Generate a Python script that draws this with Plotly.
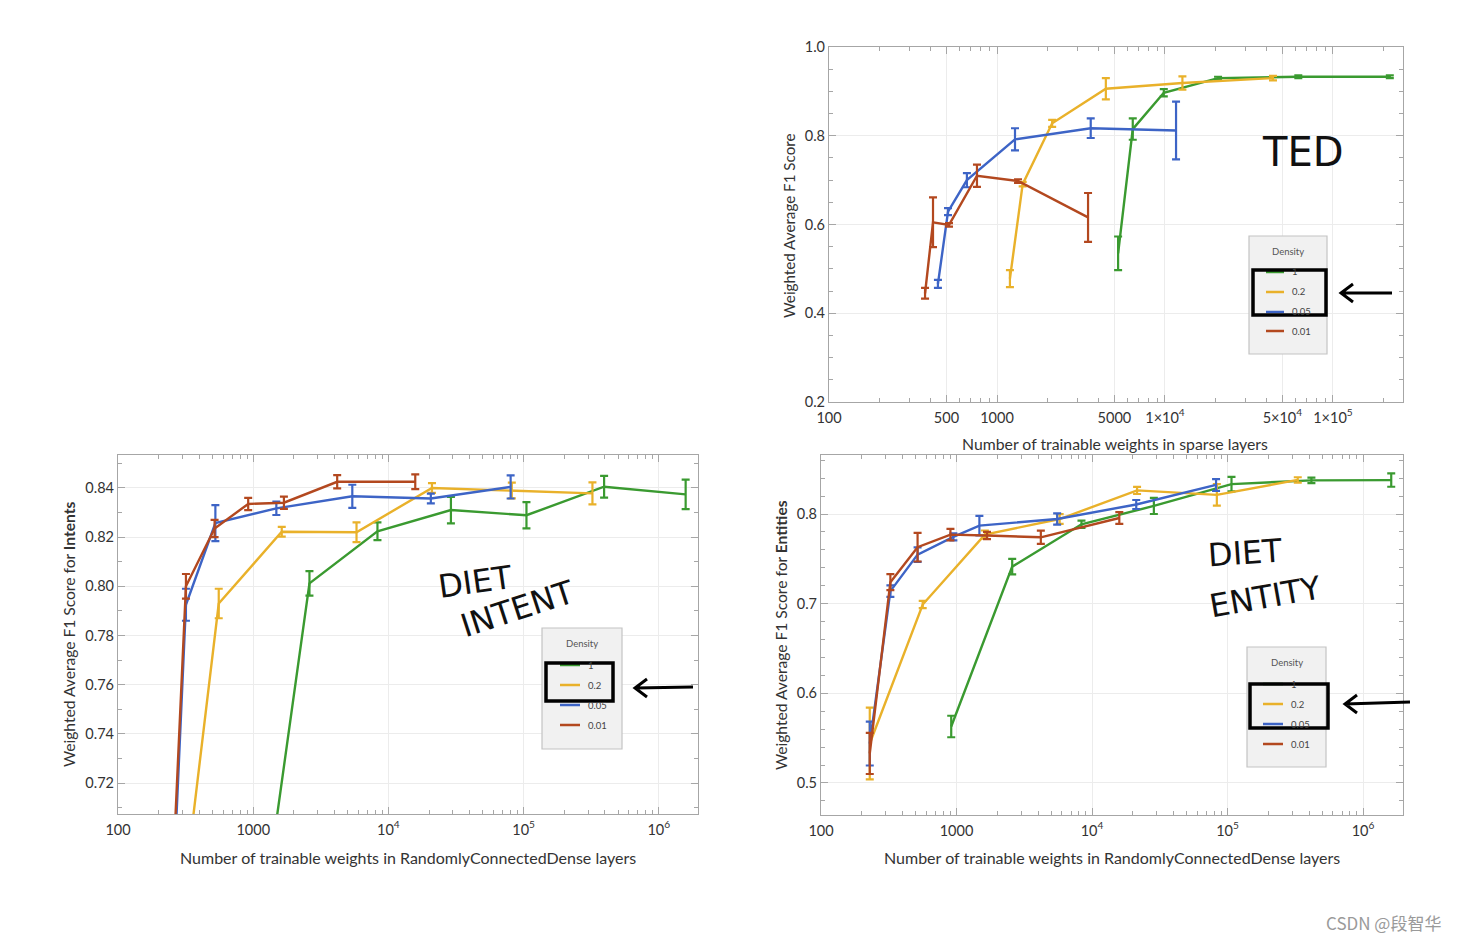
import plotly.graph_objects as go

W, H = 1464, 942

# ---------------- data ----------------
DENSITIES = ["1", "0.2", "0.05", "0.01"]
COLORS = ["#3a9a30", "#e9b12a", "#3d64c6", "#b3481f"]

# TED (sparse layers)
TED_X_1 = [5260, 6430, 9840, 20700, 62200, 218000]
TED_Y_1 = [0.535, 0.815, 0.897, 0.930, 0.933, 0.933]
TED_E_1 = [0.038, 0.024, 0.008, 0.003, 0.003, 0.003]
TED_X_02 = [1194, 1422, 2130, 4446, 12700, 43950]
TED_Y_02 = [0.478, 0.691, 0.828, 0.906, 0.919, 0.930]
TED_E_02 = [0.019, 0.005, 0.008, 0.024, 0.015, 0.005]
TED_X_005 = [445, 511, 662, 1280, 3614, 11640]
TED_Y_005 = [0.466, 0.629, 0.700, 0.792, 0.817, 0.812]
TED_E_005 = [0.009, 0.008, 0.016, 0.025, 0.022, 0.065]
TED_X_001 = [373, 416, 518, 760, 1334, 3484]
TED_Y_001 = [0.445, 0.605, 0.599, 0.710, 0.698, 0.616]
TED_E_001 = [0.012, 0.056, 0.004, 0.025, 0.004, 0.055]

# DIET intents
INT_X_1 = [900, 2606, 8300, 29000, 105000, 394000, 1580000]
INT_Y_1 = [0.619, 0.8012, 0.8224, 0.831, 0.8289, 0.8405, 0.8374]
INT_E_1 = [0.005, 0.005, 0.0036, 0.0054, 0.0053, 0.0044, 0.006]
INT_X_02 = [230, 556, 1626, 5810, 21000, 81800, 323000]
INT_Y_02 = [0.617, 0.793, 0.8222, 0.822, 0.840, 0.839, 0.8378]
INT_E_02 = [0.005, 0.006, 0.002, 0.004, 0.002, 0.0032, 0.0045]
INT_X_005 = [230, 318, 525, 1483, 5408, 20600, 80200]
INT_Y_005 = [0.620, 0.7925, 0.8257, 0.8317, 0.8366, 0.8357, 0.8404]
INT_E_005 = [0.005, 0.0065, 0.0073, 0.0027, 0.0047, 0.002, 0.0047]
INT_X_001 = [230, 318, 518, 918, 1687, 4180, 15800]
INT_Y_001 = [0.630, 0.800, 0.8235, 0.8335, 0.834, 0.8425, 0.8425]
INT_E_001 = [0.005, 0.005, 0.0035, 0.0025, 0.0025, 0.0027, 0.003]

# DIET entities
ENT_X_1 = [914, 2576, 8360, 28600, 107000, 416000, 1615000]
ENT_Y_1 = [0.563, 0.7413, 0.7885, 0.809, 0.8333, 0.8375, 0.8378]
ENT_E_1 = [0.012, 0.0087, 0.004, 0.009, 0.008, 0.003, 0.0074]
ENT_X_02 = [229, 563, 1619, 5770, 21500, 83400, 330000]
ENT_Y_02 = [0.544, 0.699, 0.777, 0.7944, 0.8263, 0.8213, 0.838]
ENT_E_02 = [0.040, 0.004, 0.0046, 0.0055, 0.004, 0.012, 0.003]
ENT_X_005 = [229, 325, 516, 948, 1475, 5530, 21200, 82300]
ENT_Y_005 = [0.544, 0.714, 0.7547, 0.7745, 0.787, 0.7944, 0.8106, 0.8324]
ENT_E_005 = [0.0245, 0.0065, 0.008, 0.004, 0.011, 0.0063, 0.005, 0.0065]
ENT_X_001 = [229, 325, 516, 902, 1679, 4190, 15900]
ENT_Y_001 = [0.533, 0.724, 0.763, 0.777, 0.776, 0.774, 0.7955]
ENT_E_001 = [0.023, 0.009, 0.016, 0.0065, 0.004, 0.0074, 0.0065]

TED_XTICKS = [100, 500, 1000, 5000, 10000, 50000, 100000]
TED_XTEXT = ["100", "500", "1000", "5000", "1\u00d710<sup>4</sup>", "5\u00d710<sup>4</sup>", "1\u00d710<sup>5</sup>"]
DIET_XTICKS = [100, 1000, 10000, 100000, 1000000]
DIET_XTEXT = ["100", "1000", "10<sup>4</sup>", "10<sup>5</sup>", "10<sup>6</sup>"]
TED_YTICKS = [0.2, 0.4, 0.6, 0.8, 1.0]
INT_YTICKS = [0.72, 0.74, 0.76, 0.78, 0.80, 0.82, 0.84]
ENT_YTICKS = [0.5, 0.6, 0.7, 0.8]

# ---------------- helpers ----------------
def px(x):
    return x / W

def py(y):
    return 1 - y / H

FONT = "Lato"
FRAME = "#a6a6a6"
GRID = "#ececec"

fig = go.Figure()

panels = [
    ("x", "y", [(TED_X_1, TED_Y_1, TED_E_1), (TED_X_02, TED_Y_02, TED_E_02),
                (TED_X_005, TED_Y_005, TED_E_005), (TED_X_001, TED_Y_001, TED_E_001)]),
    ("x2", "y2", [(INT_X_1, INT_Y_1, INT_E_1), (INT_X_02, INT_Y_02, INT_E_02),
                  (INT_X_005, INT_Y_005, INT_E_005), (INT_X_001, INT_Y_001, INT_E_001)]),
    ("x3", "y3", [(ENT_X_1, ENT_Y_1, ENT_E_1), (ENT_X_02, ENT_Y_02, ENT_E_02),
                  (ENT_X_005, ENT_Y_005, ENT_E_005), (ENT_X_001, ENT_Y_001, ENT_E_001)]),
]
for xa, ya, series in panels:
    for (xs, ys, es), col, name in zip(series, COLORS, DENSITIES):
        fig.add_trace(go.Scatter(
            x=xs, y=ys, mode="lines", name=name, xaxis=xa, yaxis=ya,
            line=dict(color=col, width=2.4),
            error_y=dict(type="data", array=es, visible=True, color=col, thickness=2.2, width=4),
            showlegend=False, hoverinfo="skip"))

def log_minor(lo, hi):
    vals = []
    d = 10 ** lo
    while d < 10 ** hi:
        for k in range(2, 10):
            vals.append(k * d)
        d *= 10
    return vals

def xaxis(domain, rng, tickvals, ticktext, anchor):
    return dict(type="log", domain=domain, range=rng, anchor=anchor, automargin=False,
                tickmode="array", tickvals=tickvals, ticktext=ticktext, ticklabelstandoff=2,
                ticks="inside", ticklen=7, tickcolor=FRAME, tickwidth=1,
                showline=True, linecolor=FRAME, linewidth=1.2, mirror="allticks",
                showgrid=True, gridcolor=GRID, gridwidth=1, zeroline=False,
                tickfont=dict(family=FONT, size=14.5, color="#333"),
                minor=dict(tickmode="array", tickvals=log_minor(2, 7), ticks="inside",
                           ticklen=4, tickcolor=FRAME, showgrid=False))

def yaxis(domain, rng, tickvals, fmt, minor_d, anchor):
    return dict(domain=domain, range=rng, anchor=anchor, automargin=False,
                tickmode="array", tickvals=tickvals, ticktext=[fmt.format(v) for v in tickvals],
                ticks="inside", ticklen=7, tickcolor=FRAME, tickwidth=1,
                showline=True, linecolor=FRAME, linewidth=1.2, mirror="allticks",
                showgrid=True, gridcolor=GRID, gridwidth=1, zeroline=False,
                tickfont=dict(family=FONT, size=14.5, color="#333"),
                minor=dict(dtick=minor_d, ticks="inside", ticklen=4, tickcolor=FRAME, showgrid=False))

fig.update_layout(
    width=W, height=H, margin=dict(l=0, r=0, t=0, b=0, autoexpand=False),
    paper_bgcolor="white", plot_bgcolor="white", showlegend=False,
    xaxis=xaxis([px(829), px(1403)], [1.9999, 5.417], TED_XTICKS, TED_XTEXT, "y"),
    yaxis=yaxis([py(402), py(47)], [0.1999, 1.0001], TED_YTICKS, "{:.1f}", 0.05, "x"),
    xaxis2=xaxis([px(118), px(698)], [1.9999, 6.29], DIET_XTICKS, DIET_XTEXT, "y2"),
    yaxis2=yaxis([py(814), py(455)], [0.7074, 0.8534], INT_YTICKS, "{:.2f}", 0.01, "x2"),
    xaxis3=xaxis([px(821), px(1403)], [1.9999, 6.295], DIET_XTICKS, DIET_XTEXT, "y3"),
    yaxis3=yaxis([py(815), py(455)], [0.4643, 0.8658], ENT_YTICKS, "{:.1f}", 0.02, "x3"),
)

ann = []
shapes = []

def text(x, y, s, size=14, color="#333", angle=0, family=FONT, xanchor="center"):
    ann.append(dict(x=px(x), y=py(y), xref="paper", yref="paper", text=s, showarrow=False,
                    textangle=angle, xanchor=xanchor, yanchor="middle",
                    font=dict(family=family, size=size, color=color)))

# axis titles
text(1115, 443, "Number of trainable weights in sparse layers", 15.8)
text(789, 225, "Weighted Average F1 Score", 15.2, angle=-90)
text(408, 857, "Number of trainable weights in RandomlyConnectedDense layers", 16)
text(69, 634, "Weighted Average F1 Score for <b>Intents</b>", 15.6, angle=-90)
text(1112, 857, "Number of trainable weights in RandomlyConnectedDense layers", 16)
text(781, 635, "Weighted Average F1 Score for <b>Entities</b>", 15.6, angle=-90)

# legend boxes
def legend_box(x0, y0, x1, y1, rows_y, sw0, sw1, tx):
    shapes.append(dict(type="rect", xref="paper", yref="paper", x0=px(x0), x1=px(x1),
                       y0=py(y1), y1=py(y0), fillcolor="#f1f1f1",
                       line=dict(color="#c4c4c4", width=1.2), layer="above"))
    text((x0 + x1) / 2, y0 + 15, "Density", 9.5, "#555")
    for ry, col, name in zip(rows_y, COLORS, DENSITIES):
        shapes.append(dict(type="line", xref="paper", yref="paper", x0=px(sw0), x1=px(sw1),
                           y0=py(ry), y1=py(ry), line=dict(color=col, width=2.5), layer="above"))
        text(tx, ry, name, 9.5, "#444", xanchor="left")

legend_box(1249, 236, 1327, 354, [272, 292, 312, 331], 1266, 1284, 1290)
legend_box(542, 628, 622, 749, [665, 685, 705, 725], 560, 580, 586)
legend_box(1247, 647, 1326, 767, [684, 704, 724, 744], 1263, 1283, 1289)

# hand-drawn rectangles
for x0, y0, x1, y1 in [(1253, 270, 1326, 315), (546, 663, 613, 701), (1250, 684, 1328, 728)]:
    shapes.append(dict(type="rect", xref="paper", yref="paper", x0=px(x0), x1=px(x1),
                       y0=py(y1), y1=py(y0), line=dict(color="black", width=3.5), layer="above"))

# hand-drawn arrows
def arrow(xt, yt, xh, yh):
    path = (f"M {px(xt)} {py(yt)} L {px(xh)} {py(yh)} "
            f"M {px(xh + 12)} {py(yh - 9)} L {px(xh)} {py(yh)} L {px(xh + 12)} {py(yh + 9)}")
    shapes.append(dict(type="path", xref="paper", yref="paper", path=path,
                       line=dict(color="black", width=3), layer="above"))

arrow(1392, 293, 1341, 293)
arrow(693, 687, 635, 688)
arrow(1410, 702, 1345, 704)

# handwritten labels
HAND = "DejaVu Sans"
text(1303, 152, "TED", 40, "#111", family=HAND)
text(475, 582, "DIET", 32, "#111", angle=-8, family=HAND)
text(517, 609, "INTENT", 32, "#111", angle=-18, family=HAND)
text(1245, 553, "DIET", 32, "#111", angle=-4, family=HAND)
text(1265, 597, "ENTITY", 32, "#111", angle=-10, family=HAND)

# watermark
text(1383, 922, "CSDN @段智华", 17, "#9a9a9a", family="Noto Sans CJK SC")

fig.update_layout(annotations=ann, shapes=shapes)
fig.write_html("out.html")
